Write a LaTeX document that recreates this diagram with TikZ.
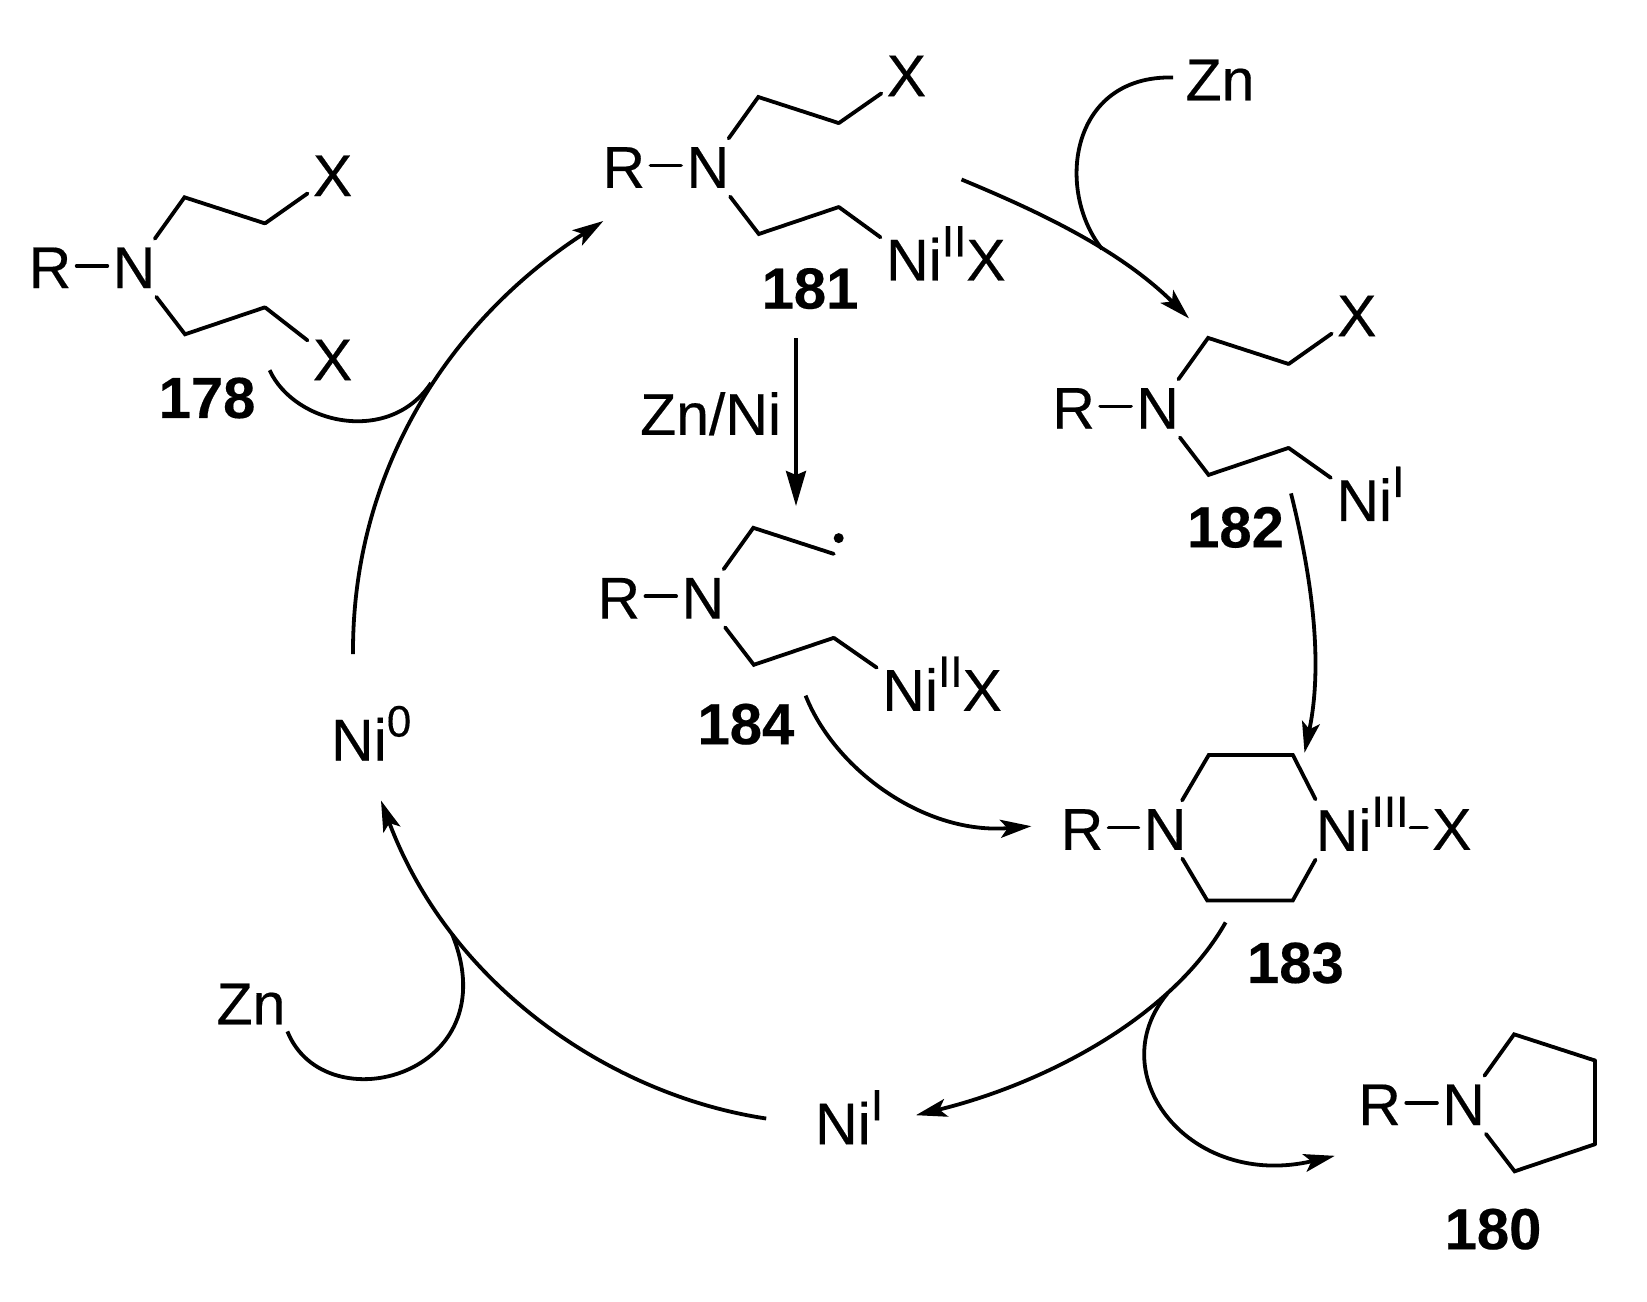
\documentclass[tikz,border=0pt]{standalone}
\usepackage{fontspec}
\setmainfont{Liberation Sans}[FakeBold=0.3]
\usetikzlibrary{arrows.meta}
\usetikzlibrary{positioning}

\newcommand{\oxstate}[1]{\raisebox{12pt}[0pt][0pt]{\fontsize{22}{22}\selectfont #1}}

\tikzset{
  atom/.style={font=\fontsize{29.5}{29.5}\selectfont, inner xsep=2.5pt, inner ysep=4.2pt},
  leaving/.style={font=\fontsize{29.5}{29.5}\selectfont, inner xsep=2.5pt, inner ysep=0pt},
  nilabel/.style={font=\fontsize{29.5}{29.5}\selectfont, inner xsep=2.6pt, inner ysep=0pt, anchor=west},
  reagent/.style={font=\fontsize{29.5}{29.5}\selectfont, inner sep=0pt},
  compound/.style={font=\fontsize{29}{29}\bfseries\selectfont, inner sep=0pt},
  radical/.style={circle, fill=black, inner sep=0pt, minimum size=5pt},
  bond/.style={line width=1.9pt, line cap=round},
  curved/.style={line width=1.9pt},
  rxn/.style={line width=1.9pt, -{Stealth[length=15.5pt, width=9pt, inset=3.5pt]}},
  addn/.style={line width=1.8pt, -{Stealth[length=17.5pt, width=10pt, inset=2pt]}}
}

\begin{document}
\begin{tikzpicture}[x=0.5pt, y=-0.5pt]
  \useasboundingbox (0, 0) rectangle (1647, 1301);

  % the amine part that all the open compounds share
  \foreach \mol/\nx/\ny in {178/134/267.8, 181/707.8/167.5, 182/1157.6/408.4, 184/702.8/598.3, 180/1463.6/1104.8}{
    \node[atom] (n\mol) at (\nx, \ny) {N};
    \node[atom] (r\mol) at ([xshift=-42pt]n\mol.center) {R};
    \coordinate (upa\mol) at ([shift={(50.5, -70.5)}]n\mol.center);
    \coordinate (upb\mol) at ([shift={(131, -44.4)}]n\mol.center);
    \coordinate (loa\mol) at ([shift={(51, 66.5)}]n\mol.center);
    \coordinate (lob\mol) at ([shift={(131, 39.5)}]n\mol.center);
    \draw[bond] ([yshift=1pt]r\mol.east) -- ([yshift=1pt]n\mol.west);
    \draw[bond] (n\mol) -- (upa\mol) -- (upb\mol);
    \draw[bond] (n\mol) -- (loa\mol) -- (lob\mol);
  }

  % chain ends
  \node[leaving] (xa178) at (332.6, 175.8) {X};
  \node[leaving] (xb178) at (332.6, 359.9) {X};
  \draw[bond] (upb178) -- (xa178);
  \draw[bond] (lob178) -- (xb178);

  \node[leaving] (x181) at (906.4, 75.9) {X};
  \node[nilabel] (ni181) at (880.5, 259.1) {Ni\oxstate{II}X};
  \draw[bond] (upb181) -- (x181);
  \draw[bond] (lob181) -- (ni181.north west);

  \node[leaving] (x182) at (1356.8, 315.9) {X};
  \node[nilabel] (ni182) at (1330.8, 499.6) {Ni\oxstate{I}};
  \draw[bond] (upb182) -- (x182);
  \draw[bond] (lob182) -- (ni182.north west);

  \node[radical] (dot184) at (838.7, 538.1) {};
  \node[nilabel] (ni184) at (876.7, 689.4) {Ni\oxstate{II}X};
  \draw[bond] (lob184) -- (ni184.north west);

  \draw[bond] (upb180) -- (lob180);

  % the ring compound
  \node[atom] (n183) at (1165, 829.5) {N};
  \node[atom] (r183) at ([xshift=-41.5pt]n183.center) {R};
  \node[atom, inner xsep=0pt, anchor=west] (ni183) at (1315.5, 829.5) {Ni\oxstate{III}};
  \node[atom] (x183) at (1451.8, 829.5) {X};
  \coordinate (ula183) at (1208.8, 754.9);
  \coordinate (ulb183) at (1292.8, 754.9);
  \coordinate (lla183) at (1207.2, 900.4);
  \coordinate (llb183) at (1292.8, 900.4);
  \draw[bond] ([yshift=1pt]r183.east) -- ([yshift=1pt]n183.west);
  \draw[bond] (n183) -- (ula183) -- (ulb183) -- (ni183.north west);
  \draw[bond] (n183) -- (lla183) -- (llb183) -- (ni183.south west);
  \draw[bond, shorten <=1pt] ([yshift=1pt]ni183.east) -- ([yshift=1pt]x183.west);

  % compound numbers
  \node[compound] (lbl178) at (207, 398) {178};
  \node[compound] (lbl181) at (810, 288.6) {181};
  \node[compound] (lbl182) at (1235.5, 527.4) {182};
  \node[compound] (lbl183) at (1295.4, 963) {183};
  \node[compound] (lbl184) at (745.9, 724.2) {184};
  \node[compound] (lbl180) at (1493, 1229.2) {180};

  % reagents and the free nickel
  \node[reagent] (zntop) at (1220, 80) {Zn};
  \node[reagent] (znlow) at (251, 1004) {Zn};
  \node[reagent] (znni) at (710.6, 413.8) {Zn/Ni};
  \node[reagent, anchor=west] (nizero) at (330.7, 739.2) {Ni\oxstate{0}};
  \node[reagent, anchor=west] (nione) at (814.7, 1123) {Ni\oxstate{I}};

  % free ends of the arrows
  \coordinate (a0) at (353, 654);
  \coordinate (a1) at (603.3, 221);
  \coordinate (b0) at (961.5, 179.5);
  \coordinate (b1) at (1189, 318.4);
  \coordinate (c0) at (1291, 493.4);
  \coordinate (c1) at (1304.5, 752.8);
  \coordinate (d0) at (805.6, 695.6);
  \coordinate (d1) at (1031.4, 826.2);
  \coordinate (e0) at (1225.6, 922.4);
  \coordinate (e1) at (915.9, 1115.2);
  \coordinate (f0) at (1167, 994);
  \coordinate (f1) at (1334.8, 1155.8);
  \coordinate (g0) at (766.2, 1118.5);
  \coordinate (g1) at (381, 800.5);
  \coordinate (h0) at (796, 338);
  \coordinate (h1) at (796, 506);
  \coordinate (i0) at (269.6, 370.2);
  \coordinate (i1) at (431, 383);
  \coordinate (j0) at (1173, 77.5);
  \coordinate (j1) at (1102, 249);
  \coordinate (k0) at (287.4, 1031.4);
  \coordinate (k1) at (452, 934);

  \draw[rxn] (a0) .. controls (352, 470) and (450, 320) .. (a1);
  \draw[rxn] (b0) .. controls (1040, 212) and (1120, 250) .. (b1);
  \draw[rxn] (c0) .. controls (1315, 590) and (1322, 670) .. (c1);
  \draw[rxn] (d0) .. controls (835, 770) and (925, 835) .. (d1);
  \draw[rxn] (e0) .. controls (1170, 1020) and (1040, 1085) .. (e1);
  \draw[rxn] (f0) .. controls (1100, 1075) and (1190, 1190) .. (f1);
  \draw[rxn] (g0) .. controls (610, 1095) and (450, 985) .. (g1);
  \draw[addn] (h0) -- (h1);

  \draw[curved] (i0) .. controls (295, 425) and (390, 445) .. (i1);
  \draw[curved] (j0) .. controls (1070, 75) and (1055, 190) .. (j1);
  \draw[curved] (k0) .. controls (325, 1125) and (510, 1075) .. (k1);
\end{tikzpicture}
\end{document}
